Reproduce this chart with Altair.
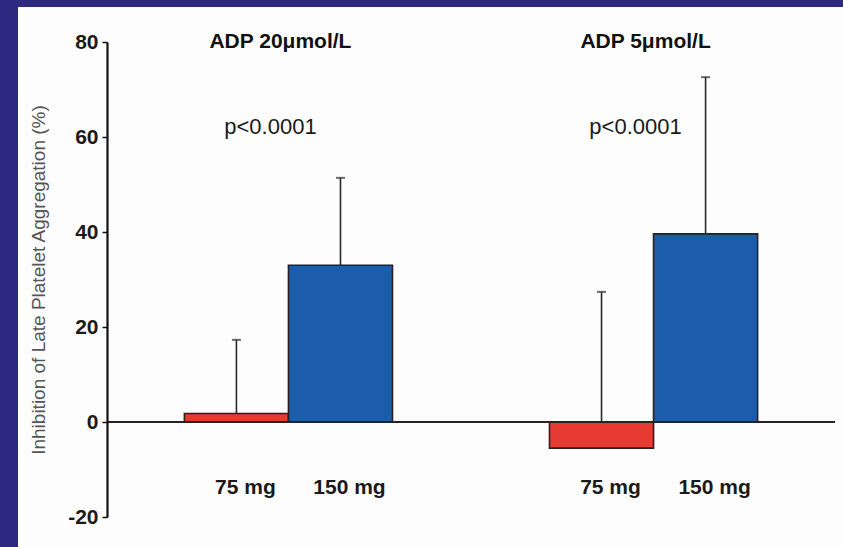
import altair as alt
import pandas as pd

# ---- data ----
groups = ["ADP 20μmol/L", "ADP 5μmol/L"]
doses = ["75 mg", "150 mg"]
mean_75 = [1.8, -5.5]
mean_150 = [33.0, 39.6]
sd_75 = [15.5, 32.9]
sd_150 = [18.4, 33.0]
p_values = ["p<0.0001", "p<0.0001"]
y_ticks = [-20, 0, 20, 40, 60, 80]

rows = []
for i, g in enumerate(groups):
    rows.append({"group": g, "dose": doses[0], "mean": mean_75[i], "top": mean_75[i] + sd_75[i]})
    rows.append({"group": g, "dose": doses[1], "mean": mean_150[i], "top": mean_150[i] + sd_150[i]})
df = pd.DataFrame(rows)
ann = pd.DataFrame({"group": groups, "p": p_values})

W, H = 728, 475
FONT = "Liberation Sans"
RED, BLUE = "#e63a33", "#1b5dab"
NAVY = "#2b2a80"

xenc = alt.X("group:N", sort=groups, axis=None,
             scale=alt.Scale(paddingInner=0.43, paddingOuter=0.212))
xoff = alt.XOffset("dose:N", sort=doses, scale=alt.Scale(paddingInner=0, paddingOuter=0))

yscale = alt.Scale(domain=[-20, 80], nice=False, zero=False)

one = pd.DataFrame({"a": [0]})
band_left = alt.Chart(one).mark_rect(color=NAVY).encode(
    x=alt.value(-107), x2=alt.value(-89), y=alt.value(-42), y2=alt.value(H + 30)
)
band_top = alt.Chart(one).mark_rect(color=NAVY).encode(
    x=alt.value(-107), x2=alt.value(W + 8), y=alt.value(-42), y2=alt.value(-35)
)

err = alt.Chart(df).mark_rule(color="#2a2a2a", strokeWidth=1.6).encode(
    x=xenc, xOffset=xoff,
    y=alt.Y("mean:Q", scale=yscale,
            axis=alt.Axis(values=y_ticks, grid=False, domainColor="#111", domainWidth=2.2,
                          tickColor="#111", tickWidth=1.5, tickSize=5, labelPadding=4,
                          labelExpr="datum.value",
                          labelFont=FONT, labelFontSize=21, labelFontWeight="bold",
                          labelColor="#1a1a1a", zindex=1,
                          title="Inhibition of Late Platelet Aggregation (%)",
                          titleFont=FONT, titleFontSize=19, titleFontWeight="normal",
                          titleColor="#555555", titleAngle=270, titleX=-69, titleY=H / 2,
                          titleAlign="center", titleBaseline="middle")),
    y2="top:Q",
)

caps = alt.Chart(df).mark_tick(color="#2a2a2a", orient="horizontal", size=9, thickness=2).encode(
    x=xenc, xOffset=xoff, y=alt.Y("top:Q", scale=yscale)
)

bars = alt.Chart(df).mark_bar(stroke="#2b1f1f", strokeWidth=1.6).encode(
    x=xenc, xOffset=xoff,
    y=alt.Y("mean:Q", scale=yscale), y2=alt.datum(0),
    color=alt.Color("dose:N", sort=doses, scale=alt.Scale(domain=doses, range=[RED, BLUE]), legend=None),
)

baseline = alt.Chart(one).mark_rule(color="#2a2222", strokeWidth=2.2).encode(
    y=alt.datum(0, scale=yscale), x=alt.value(0), x2=alt.value(W)
)

dose_text = alt.Chart(df).mark_text(font=FONT, fontSize=21, fontWeight="bold", color="#1a1a1a",
                                    baseline="middle", dx=9).encode(
    x=xenc, xOffset=xoff, y=alt.value(446), text="dose:N"
)

heads = alt.Chart(ann).mark_text(font=FONT, fontSize=21, fontWeight="bold", color="#111",
                                 baseline="middle", dx=-8).encode(
    x=xenc, y=alt.value(0), text="group:N"
)

ptext = alt.Chart(ann).mark_text(font=FONT, fontSize=22, color="#1a1a1a",
                                 baseline="middle", dx=-18).encode(
    x=xenc, y=alt.value(85), text="p:N"
)

chart = alt.layer(band_left, band_top, err, bars, baseline, caps, dose_text, heads, ptext).properties(
    width=W, height=H,
    padding={"left": 107, "top": 42, "right": 8, "bottom": 30},
    autosize=alt.AutoSizeParams(type="none"),
    background="#fdfdfd",
).configure_view(stroke=None)

chart.save("out.html", embed_options={"renderer": "svg", "actions": False})
